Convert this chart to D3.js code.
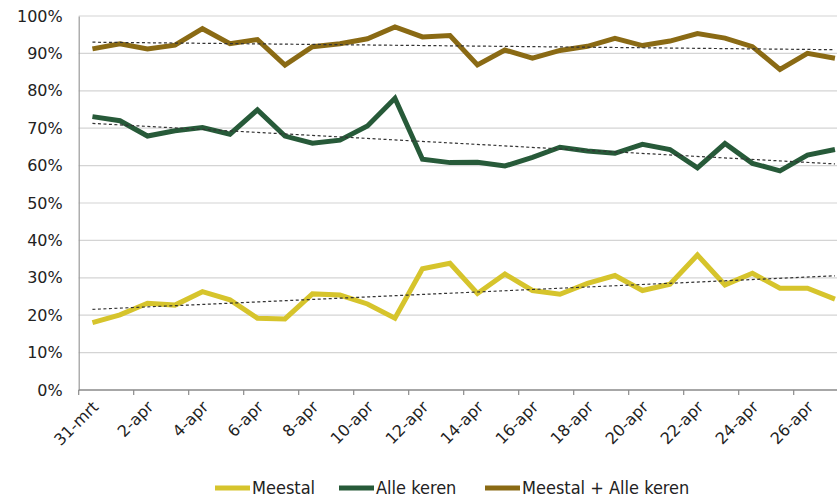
<!DOCTYPE html>
<html>
<head>
<meta charset="utf-8">
<script src="https://cdn.jsdelivr.net/npm/d3@7"></script>
<style>
  html, body { margin: 0; padding: 0; background: #fff; overflow: hidden; }
  svg { display: block; }
  text { font-family: "DejaVu Sans", Verdana, sans-serif; fill: #222; }
</style>
</head>
<body>
<svg id="chart" width="837" height="499"></svg>
<script>
// Daily dates (31 March – 27 April)
const dates = ["31-mrt","1-apr","2-apr","3-apr","4-apr","5-apr","6-apr","7-apr","8-apr","9-apr",
  "10-apr","11-apr","12-apr","13-apr","14-apr","15-apr","16-apr","17-apr","18-apr","19-apr",
  "20-apr","21-apr","22-apr","23-apr","24-apr","25-apr","26-apr","27-apr"];

// Shares in percent
const meestal = [18.0,20.1,23.2,22.7,26.3,24.1,19.2,19.0,25.7,25.4,
  23.0,19.2,32.4,33.9,25.8,31.0,26.6,25.6,28.5,30.6,
  26.6,28.3,36.1,28.1,31.2,27.2,27.2,24.3];
const alleKeren = [73.1,72.0,67.9,69.3,70.2,68.4,74.9,67.9,66.0,66.8,
  70.6,78.0,61.7,60.8,60.9,59.9,62.2,64.9,63.9,63.3,
  65.7,64.3,59.4,65.9,60.6,58.6,62.8,64.3];
const totaal = [91.2,92.6,91.2,92.2,96.6,92.6,93.7,86.9,91.8,92.6,
  93.9,97.1,94.4,94.8,86.9,90.9,88.7,90.8,91.9,94.0,
  92.1,93.3,95.3,94.1,91.8,85.7,90.0,88.7];

const yTicks = [0,10,20,30,40,50,60,70,80,90,100];

const series = [
  { name: "Meestal", values: meestal, color: "#d6c42c" },
  { name: "Alle keren", values: alleKeren, color: "#275a39" },
  { name: "Meestal + Alle keren", values: totaal, color: "#8a6a14" }
];

const svg = d3.select("#chart");
const plotLeft = 78.7, plotTop = 16, plotBottom = 390, band = 27.5;

const x = d3.scaleBand().domain(dates).range([plotLeft, plotLeft + band * dates.length]).paddingInner(0).paddingOuter(0);
const cx = d => x(d) + x.bandwidth() / 2;
const y = d3.scaleLinear().domain([0, 100]).range([plotBottom, plotTop]);

// Horizontal gridlines
svg.append("g").selectAll("line")
  .data(yTicks.filter(t => t > 0))
  .join("line")
  .attr("x1", plotLeft).attr("x2", 837)
  .attr("y1", d => y(d)).attr("y2", d => y(d))
  .attr("stroke", "#d4d4d4").attr("stroke-width", 1.2);

// Y axis
const yAxis = svg.append("g").attr("transform", `translate(${plotLeft},0)`)
  .call(d3.axisLeft(y).tickValues(yTicks).tickFormat(d => d + "%").tickSize(0).tickPadding(16));
yAxis.select(".domain").attr("stroke", "#9a9a9a").attr("stroke-width", 1.2);
yAxis.selectAll("text").style("font-size", "16px").attr("fill", "#222");

// X axis with tick marks at every second category boundary
const xAxisG = svg.append("g").attr("transform", `translate(0,${plotBottom})`);
xAxisG.append("line").attr("x1", plotLeft).attr("x2", 837).attr("y1", 0).attr("y2", 0)
  .attr("stroke", "#8a8a8a").attr("stroke-width", 1.5);
xAxisG.selectAll("line.tick")
  .data(dates.filter((d, i) => i % 2 === 0))
  .join("line").attr("class", "tick")
  .attr("x1", d => x(d)).attr("x2", d => x(d))
  .attr("y1", 0).attr("y2", 5)
  .attr("stroke", "#8a8a8a").attr("stroke-width", 1.2);
xAxisG.selectAll("text")
  .data(dates.filter((d, i) => i % 2 === 0))
  .join("text")
  .attr("transform", d => `translate(${cx(d) + 3},${14}) rotate(-45)`)
  .attr("text-anchor", "end")
  .attr("dy", "0.35em")
  .style("font-size", "16px")
  .text(d => d);

// Data lines
const line = d3.line().x((v, i) => cx(dates[i])).y(v => y(v));
svg.append("g").selectAll("path")
  .data(series)
  .join("path")
  .attr("d", s => line(s.values))
  .attr("fill", "none")
  .attr("stroke", s => s.color)
  .attr("stroke-width", 5)
  .attr("stroke-linejoin", "miter");

// Linear trendlines (least squares)
function trend(values) {
  const n = values.length;
  const xs = d3.range(n);
  const mx = d3.mean(xs), my = d3.mean(values);
  const b = d3.sum(xs, i => (i - mx) * (values[i] - my)) / d3.sum(xs, i => (i - mx) ** 2);
  const a = my - b * mx;
  return [[0, a], [n - 1, a + b * (n - 1)]];
}
svg.append("g").selectAll("line")
  .data(series.map(s => trend(s.values)))
  .join("line")
  .attr("x1", t => cx(dates[t[0][0]])).attr("y1", t => y(t[0][1]))
  .attr("x2", t => cx(dates[t[1][0]])).attr("y2", t => y(t[1][1]))
  .attr("stroke", "#333").attr("stroke-width", 1.2)
  .attr("stroke-dasharray", "3,2.5");

// Legend
const legendX = [215, 339, 485];
const legend = svg.append("g").selectAll("g")
  .data(series)
  .join("g")
  .attr("transform", (s, i) => `translate(${legendX[i]},488)`);
legend.append("line")
  .attr("x1", 0).attr("x2", 35).attr("y1", 0).attr("y2", 0)
  .attr("stroke", s => s.color).attr("stroke-width", 5);
legend.append("text")
  .attr("x", 37).attr("dy", "0.36em")
  .style("font-family", "'DejaVu Sans Condensed', 'DejaVu Sans', sans-serif")
  .style("font-size", "18px")
  .text(s => s.name);
</script>
</body>
</html>
